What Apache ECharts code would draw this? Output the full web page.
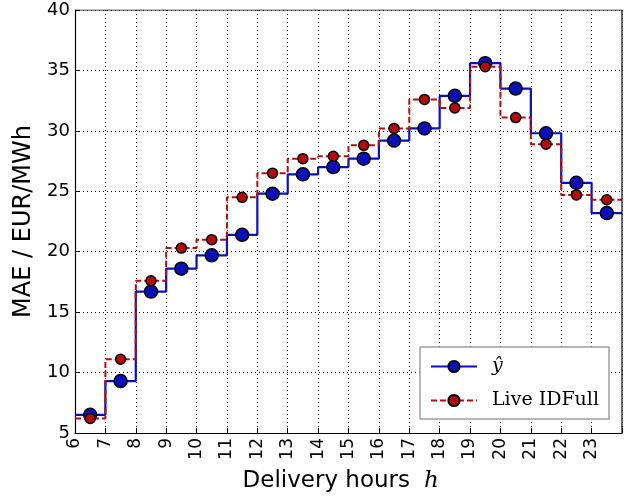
<!DOCTYPE html>
<html>
<head>
<meta charset="utf-8">
<script src="https://cdn.jsdelivr.net/npm/echarts@6/dist/echarts.min.js"></script>
<style>
  html, body { margin: 0; padding: 0; background: #fff; }
  #chart { width: 635px; height: 502px; }
</style>
</head>
<body>
<div id="chart"></div>
<script>
// delivery hours (start of each hourly step)
var hours = [6, 7, 8, 9, 10, 11, 12, 13, 14, 15, 16, 17, 18, 19, 20, 21, 22, 23]
var yhatMae = [6.5, 9.3, 16.7, 18.6, 19.7, 21.4, 24.8, 26.4, 27.0, 27.7, 29.2, 30.2, 32.9, 35.6, 33.5, 29.8, 25.7, 23.2]
var idFullMae = [6.2, 11.1, 17.6, 20.3, 21.0, 24.5, 26.5, 27.7, 27.9, 28.8, 30.2, 32.6, 31.9, 35.3, 31.1, 28.9, 24.7, 24.3]
var xTicks = [6, 7, 8, 9, 10, 11, 12, 13, 14, 15, 16, 17, 18, 19, 20, 21, 22, 23]
var yTicks = [5, 10, 15, 20, 25, 30, 35, 40]

// step edges carry no marker, the hour centre gets the circle
function stepData(vals) {
  var res = []
  for (var i = 0; i < hours.length; i++) {
    res.push({ value: [hours[i], vals[i]], symbol: 'none' })
    res.push([hours[i] + 0.5, vals[i]])
  }
  res.push({ value: [hours[hours.length - 1] + 1, vals[vals.length - 1]], symbol: 'none' })
  return res
}

var chart = echarts.init(document.getElementById('chart'))
chart.setOption({
  animation: false,
  grid: { left: 75, right: 13, top: 10, bottom: 69 },
  legend: {
    right: 26,
    top: 347,
    orient: 'vertical',
    itemWidth: 46,
    itemHeight: 14,
    itemGap: 15,
    padding: [10, 10, 9, 10],
    borderColor: '#a0a0a0',
    borderWidth: 1.5,
    borderRadius: 0,
    backgroundColor: '#fff',
    textStyle: { fontFamily: 'DejaVu Serif', fontSize: 19, color: '#000', padding: [0, 0, 0, 10] },
    data: [
      { name: 'ŷ', textStyle: { fontStyle: 'italic' } },
      { name: 'Live IDFull' }
    ]
  },
  graphic: [
    {
      type: 'text',
      x: 410,
      y: 481,
      style: { text: 'Delivery hours', font: '23px "DejaVu Sans"', fill: '#000', align: 'right', verticalAlign: 'middle' }
    },
    {
      type: 'text',
      x: 424,
      y: 481,
      style: { text: 'h', font: 'italic 23px "DejaVu Serif"', fill: '#000', align: 'left', verticalAlign: 'middle' }
    }
  ],
  xAxis: {
    type: 'value',
    min: 6,
    max: 24,
    interval: 1,
    axisLine: { onZero: false, lineStyle: { color: '#000', width: 1.2 } },
    axisTick: { inside: true, length: 5, lineStyle: { color: '#000' } },
    axisLabel: {
      rotate: 90,
      fontFamily: 'DejaVu Sans',
      fontSize: 17,
      color: '#000',
      margin: 5,
      formatter: function (v) { return xTicks.indexOf(v) >= 0 ? String(v) : '' }
    },
    splitLine: { show: true, lineStyle: { color: '#000', type: [1, 3], width: 1 } }
  },
  yAxis: {
    type: 'value',
    min: 5,
    max: 40,
    interval: 5,
    name: 'MAE / EUR/MWh',
    nameLocation: 'middle',
    nameGap: 33,
    nameTextStyle: { fontFamily: 'DejaVu Sans', fontSize: 24, color: '#000' },
    axisLine: { lineStyle: { color: '#000', width: 1.2 } },
    axisTick: { inside: true, length: 5, lineStyle: { color: '#000' } },
    axisLabel: {
      fontFamily: 'DejaVu Sans',
      fontSize: 18,
      color: '#000',
      margin: 5,
      formatter: function (v) { return yTicks.indexOf(v) >= 0 ? String(v) : '' }
    },
    splitLine: { show: true, lineStyle: { color: '#000', type: [1, 3], width: 1 } }
  },
  series: [
    {
      name: 'ŷ',
      type: 'line',
      step: 'end',
      data: stepData(yhatMae),
      symbol: 'circle',
      symbolSize: 13,
      lineStyle: { color: '#0c10b8', width: 2.2 },
      itemStyle: { color: '#0c10b8', borderColor: '#000', borderWidth: 1.5 },
      z: 3
    },
    {
      name: 'Live IDFull',
      type: 'line',
      step: 'end',
      data: stepData(idFullMae),
      symbol: 'circle',
      symbolSize: 10,
      lineStyle: { color: '#b40c0c', width: 2, type: [6, 3] },
      itemStyle: { color: '#b40c0c', borderColor: '#000', borderWidth: 1.5 },
      z: 4
    },
    {
      // right and top frame of the axes box
      type: 'line',
      data: [[6, 40], [24, 40], [24, 5]],
      symbol: 'none',
      silent: true,
      lineStyle: { color: '#000', width: 1.2 },
      z: 5
    }
  ]
})
</script>
</body>
</html>
